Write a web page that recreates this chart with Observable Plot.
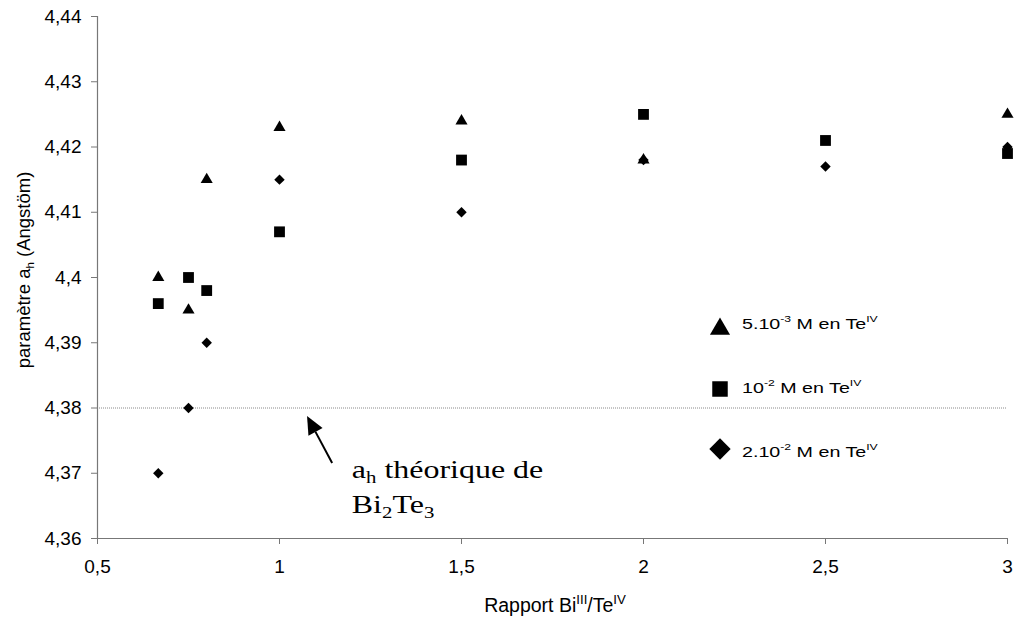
<!DOCTYPE html>
<html><head><meta charset="utf-8">
<script src="https://cdn.jsdelivr.net/npm/d3@7"></script>
<script src="https://cdn.jsdelivr.net/npm/@observablehq/plot@0.6"></script>
<style>
body{margin:0;background:#fff;}
#chart{position:relative;width:1014px;height:623px;}
</style>
</head><body><div id="chart"></div>
<script>
// ---- data ----
const xTicks = [0.5, 1, 1.5, 2, 2.5, 3];
const yTicks = [4.36, 4.37, 4.38, 4.39, 4.40, 4.41, 4.42, 4.43, 4.44];

const ratioA = [0.667, 0.75, 0.8, 1, 1.5, 2, 3];            // 5.10-3 M
const paramA = [4.400, 4.395, 4.415, 4.423, 4.424, 4.418, 4.425];
const ratioB = [0.667, 0.75, 0.8, 1, 1.5, 2, 2.5, 3];       // 10-2 M
const paramB = [4.396, 4.400, 4.398, 4.407, 4.418, 4.425, 4.421, 4.419];
const ratioC = [0.667, 0.75, 0.8, 1, 1.5, 2, 2.5, 3];       // 2.10-2 M
const paramC = [4.370, 4.380, 4.390, 4.415, 4.410, 4.418, 4.417, 4.420];

const theoretical = [4.38];
const seriesLabels = [
  [{t:"5.10"},{t:"-3",s:"sup"},{t:" M en Te"},{t:"IV",s:"sup"}],
  [{t:"10"},{t:"-2",s:"sup"},{t:" M en Te"},{t:"IV",s:"sup"}],
  [{t:"2.10"},{t:"-2",s:"sup"},{t:" M en Te"},{t:"IV",s:"sup"}]
];
const xTitle = [{t:"Rapport Bi"},{t:"III",s:"sup"},{t:"/Te"},{t:"IV",s:"sup"}];
const yTitle = [{t:"paramètre a"},{t:"h",s:"sub"},{t:" (Angstöm)"}];
const noteLine1 = [{t:"a"},{t:"h",s:"sub"},{t:" théorique de"}];
const noteLine2 = [{t:"Bi"},{t:"2",s:"sub"},{t:"Te"},{t:"3",s:"sub"}];
const noteAnchor = {x: 1.2, y: 4.3692};
const arrowTail = {x: 1.146, y: 4.3715};
const arrowTip = {x: 1.077, y: 4.3787};

// ---- build ----
const fmt = d => String(+d.toFixed(3)).replace(".", ",");
const toRows = (xs, ys) => xs.map((x, i) => ({x, y: ys[i]}));

const plot = Plot.plot({
  width: 1014, height: 623,
  marginLeft: 97, marginRight: 7, marginTop: 16, marginBottom: 85,
  style: {fontFamily: "'Liberation Sans', Arial, sans-serif", fontSize: "19px", color: "black", background: "white"},
  x: {domain: [0.5, 3]},
  y: {domain: [4.36, 4.44]},
  marks: [
    Plot.ruleY(theoretical, {stroke: "#8a8a8a", strokeWidth: 1, strokeDasharray: "1,1"}),
    Plot.ruleX([0.5], {stroke: "#777", strokeWidth: 1.2}),
    Plot.ruleY([4.36], {stroke: "#777", strokeWidth: 1.2}),
    Plot.axisX({ticks: xTicks, tickFormat: fmt, tickSize: 6, tickPadding: 15, stroke: "#777", fill: "black", label: null}),
    Plot.axisY({ticks: yTicks, tickFormat: fmt, tickSize: 6, tickPadding: 10, stroke: "#777", fill: "black", label: null}),
    Plot.dot(toRows(ratioA, paramA), {x: "x", y: "y", symbol: "triangle", r: 4.5, fill: "black", stroke: "none"}),
    Plot.dot(toRows(ratioB, paramB), {x: "x", y: "y", symbol: "square", r: 6.1, fill: "black", stroke: "none"}),
    Plot.dot(toRows(ratioC, paramC), {x: "x", y: "y", symbol: "diamond2", r: 4.7, fill: "black", stroke: "none"})
  ]
});
document.getElementById("chart").appendChild(plot);

const svg = d3.select(plot);
const sx = plot.scale("x"), sy = plot.scale("y");

function rich(sel, parts, fs, supScale = 0.62) {
  let shift = 0;
  for (const p of parts) {
    const target = p.s === "sup" ? -0.42 * fs : p.s === "sub" ? 0.2 * fs : 0;
    sel.append("tspan").attr("dy", target - shift).attr("font-size", p.s ? fs * supScale : fs).text(p.t);
    shift = target;
  }
  return sel;
}

const sans = "'Liberation Sans', Arial, sans-serif";
const serif = "'Liberation Serif', 'Times New Roman', serif";

// axis titles
rich(svg.append("text").attr("x", 555).attr("y", 612).attr("text-anchor", "middle")
  .attr("font-family", sans).attr("fill", "black"), xTitle, 19.5, 0.68);
rich(svg.append("text").attr("transform", "translate(30,270) rotate(-90)").attr("text-anchor", "middle")
  .attr("font-family", sans).attr("fill", "black"), yTitle, 18.5);

// annotation (horizontally stretched text box, as in the original)
const ax = sx.apply(noteAnchor.x), ay = sy.apply(noteAnchor.y);
rich(svg.append("text").attr("transform", `translate(${ax},${ay}) scale(1.23,1)`).attr("text-anchor", "start")
  .attr("font-family", serif).attr("fill", "black"), noteLine1, 26, 0.65);
rich(svg.append("text").attr("transform", `translate(${ax},${ay + 35}) scale(1.23,1)`).attr("text-anchor", "start")
  .attr("font-family", serif).attr("fill", "black"), noteLine2, 26, 0.65);

const tx = sx.apply(arrowTip.x), ty = sy.apply(arrowTip.y);
const tlx = sx.apply(arrowTail.x), tly = sy.apply(arrowTail.y);
const ang = Math.atan2(ty - tly, tx - tlx);
const headLen = 18, headHalf = 8;
const bx = tx - headLen * Math.cos(ang), by = ty - headLen * Math.sin(ang);
svg.append("line").attr("x1", tlx).attr("y1", tly).attr("x2", bx).attr("y2", by).attr("stroke", "black").attr("stroke-width", 2);
svg.append("path").attr("fill", "black").attr("d",
  `M${tx},${ty}L${bx + headHalf * Math.sin(ang)},${by - headHalf * Math.cos(ang)}L${bx - headHalf * Math.sin(ang)},${by + headHalf * Math.cos(ang)}Z`);

// legend
const legSymbols = [d3.symbolTriangle, d3.symbolSquare, d3.symbolDiamond2];
const legSizes = [175, 240, 290];
const legSymY = [329, 389, 449];
const legTextY = [329, 393, 457];
legSymbols.forEach((sym, i) => {
  svg.append("path").attr("transform", `translate(720,${legSymY[i]})`).attr("fill", "black")
    .attr("d", d3.symbol(sym, legSizes[i])());
  rich(svg.append("text").attr("transform", `translate(742,${legTextY[i]}) scale(1.27,1)`).attr("text-anchor", "start")
    .attr("font-family", sans).attr("fill", "black"), seriesLabels[i], 15.5, 0.62);
});
</script>
</body></html>
